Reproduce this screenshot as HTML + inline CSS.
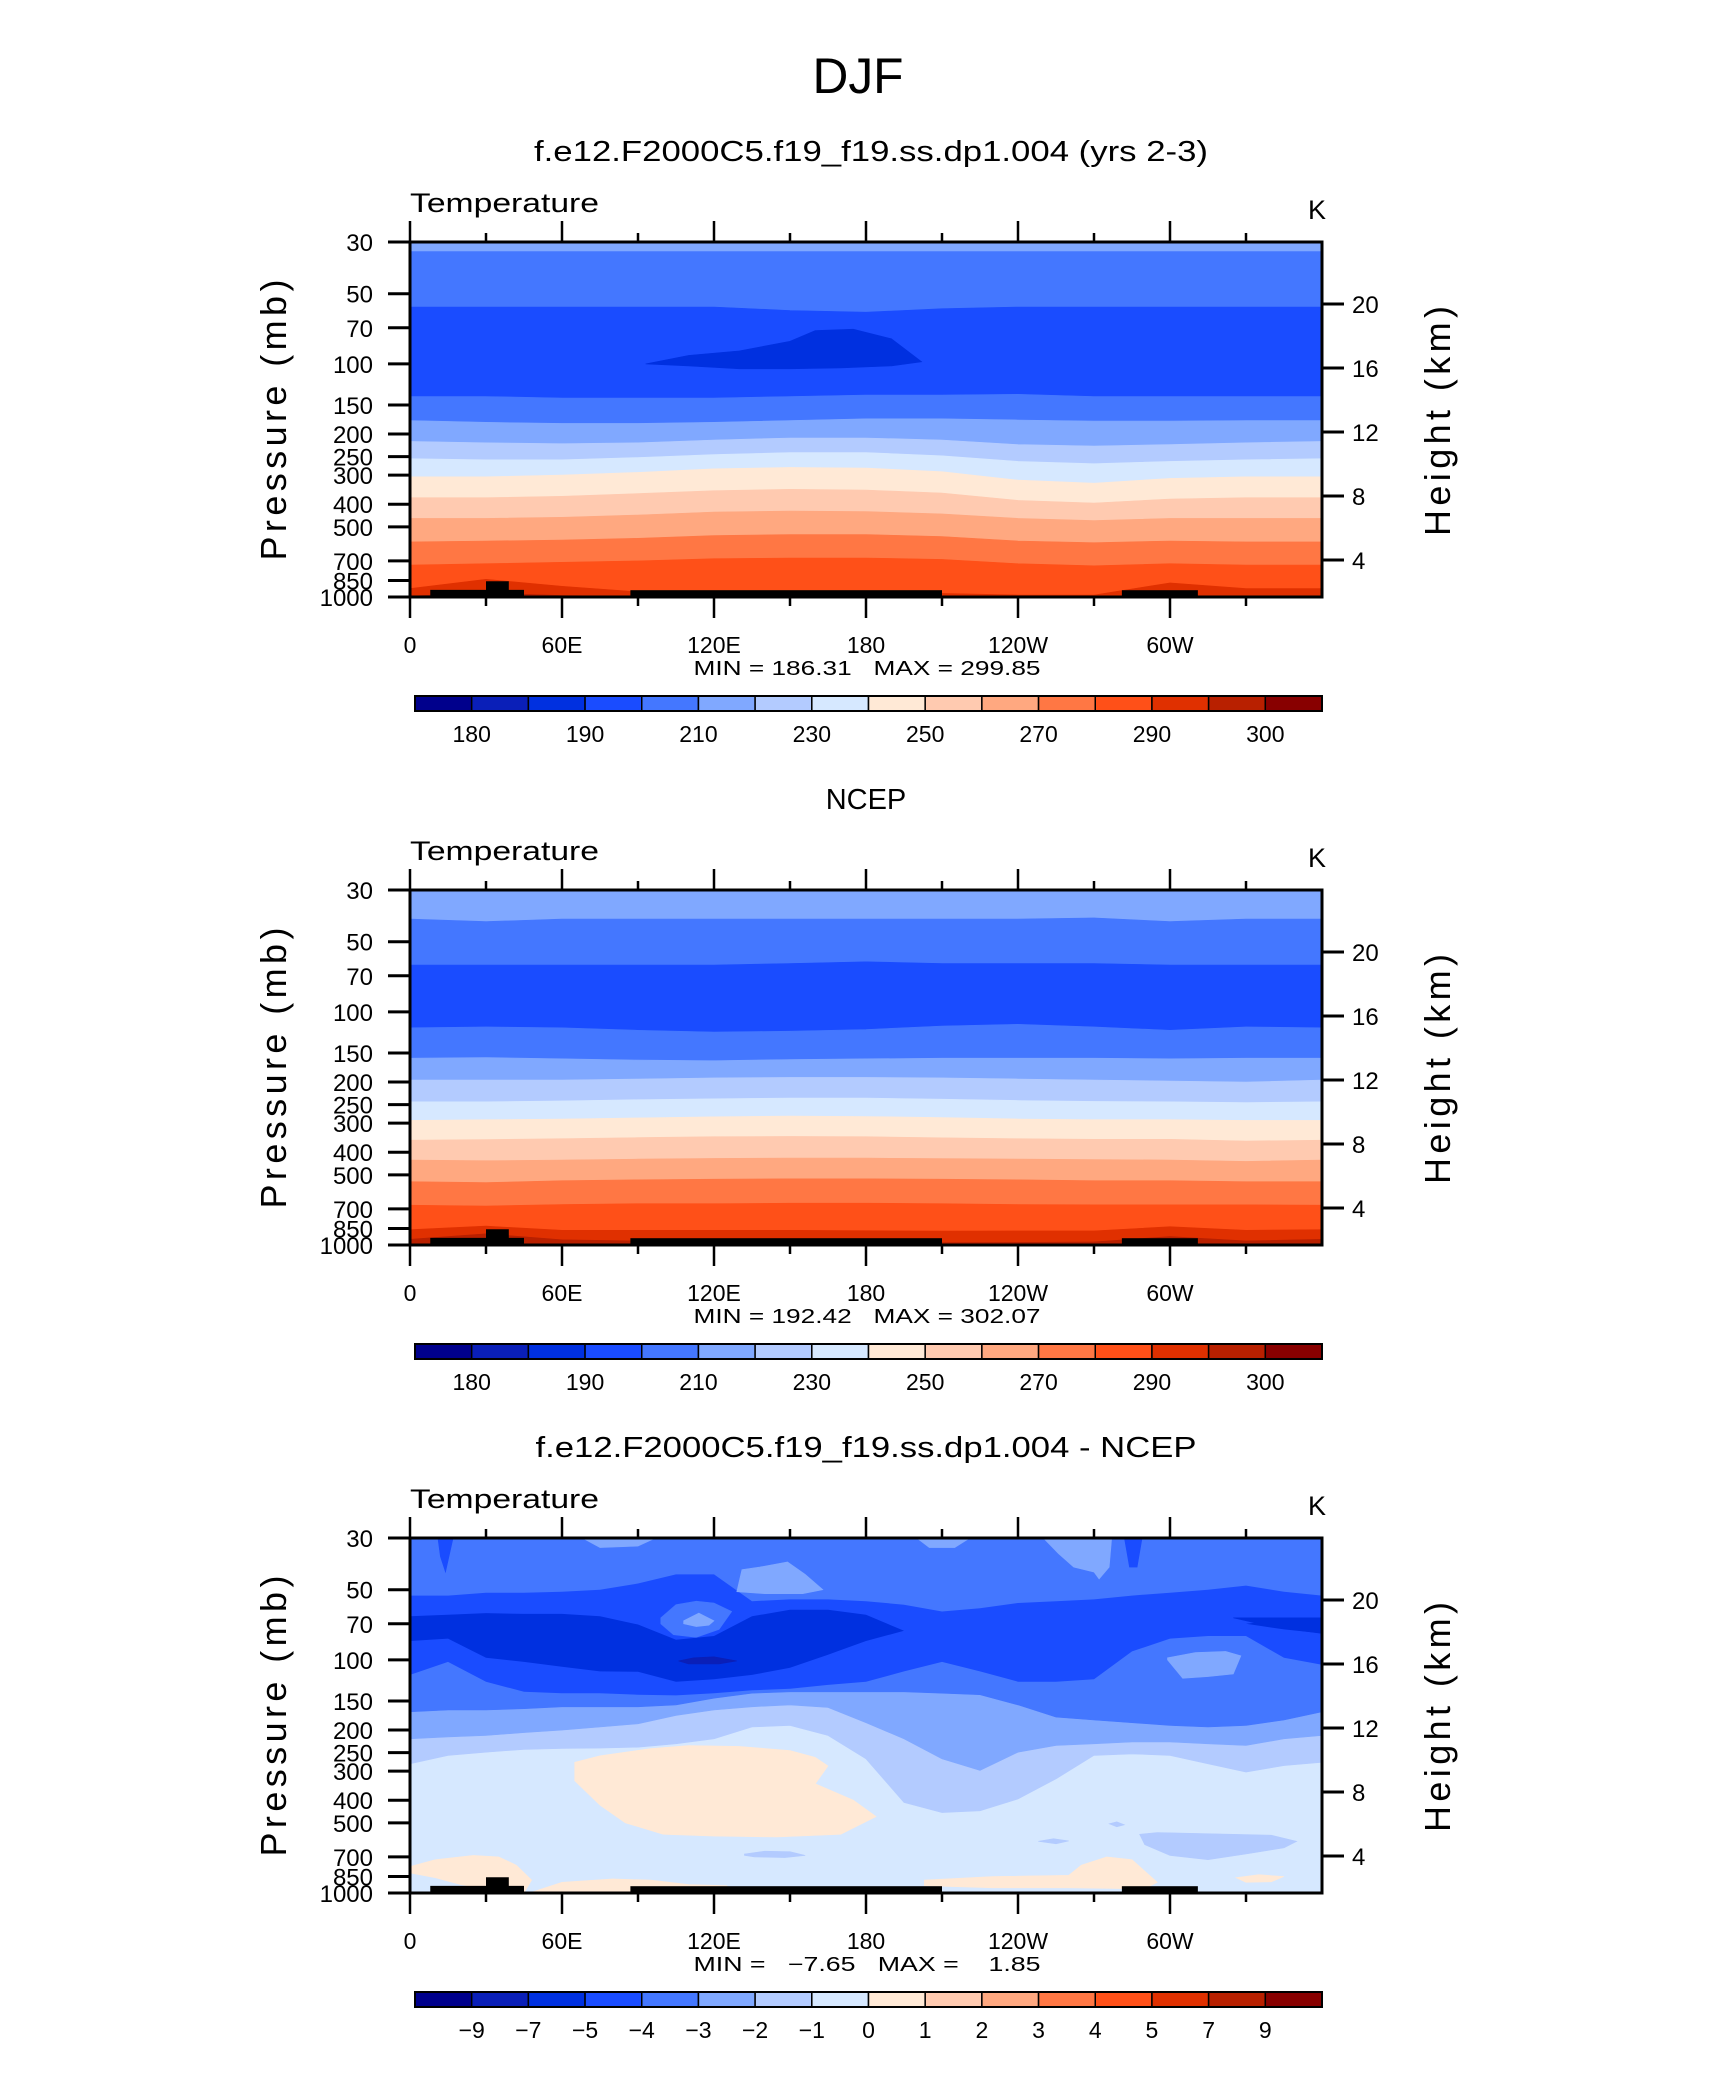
<!DOCTYPE html>
<html>
<head>
<meta charset="utf-8">
<style>
  html,body{margin:0;padding:0;background:#fff;}
  svg{display:block;}
  text{font-family:"Liberation Sans",sans-serif;fill:#000;}
</style>
</head>
<body>
<svg id="chart" xmlns="http://www.w3.org/2000/svg" width="1710" height="2074" viewBox="0 0 1710 2074">
  <rect x="0" y="0" width="1710" height="2074" fill="#fff"/>
  <text x="858" y="93" font-size="50" text-anchor="middle" textLength="91" lengthAdjust="spacingAndGlyphs">DJF</text>
  <text x="871" y="161" font-size="29" text-anchor="middle" textLength="674" lengthAdjust="spacingAndGlyphs">f.e12.F2000C5.f19_f19.ss.dp1.004 (yrs 2-3)</text>
  <text x="866" y="809" font-size="29" text-anchor="middle">NCEP</text>
  <text x="866" y="1457" font-size="29" text-anchor="middle" textLength="661" lengthAdjust="spacingAndGlyphs">f.e12.F2000C5.f19_f19.ss.dp1.004 - NCEP</text>
</svg>
<script>
// ---------- data ----------
const lons30 = [0,30,60,90,120,150,180,210,240,270,300,330,360];
const lons15 = [0,15,30,45,60,75,90,105,120,135,150,165,180,195,210,225,240,255,270,285,300,315,330,345,360];
const palette = ['#00008c','#0a1fb8','#0030e0','#1a4cff','#4477ff','#80a8ff','#b3cbff','#d6e8ff','#ffe9d6','#ffcab0','#ffa880','#ff7744','#ff5018','#e03000','#b82000','#880000'];
const tempBarLabels = ['180','190','210','230','250','270','290','300'];
const tempBarLabelIdx = [1,3,5,7,9,11,13,15];
const diffBarLabels = ['\u22129','\u22127','\u22125','\u22124','\u22123','\u22122','\u22121','0','1','2','3','4','5','7','9'];
const pressureTicks = [30,50,70,100,150,200,250,300,400,500,700,850,1000];
const heightTicks = [4,8,12,16,20];
const lonTickLabels = ['0','60E','120E','180','120W','60W'];
const lonTickVals = [0,60,120,180,240,300];

// panel 1 (model) boundaries in mb, colour index below each boundary
const m1 = [33,33,33,33,33,33,33,33,33,33,33,33,33];
const m2 = [57,57,57,57,57,59,60,58,57,57,57,57,57];
const m3 = [138,138,140,140,140,138,136,136,135,138,138,138,138];
const m4 = [175,178,180,180,178,175,172,172,174,176,176,175,175];
const m5 = [215,218,220,218,212,208,208,212,222,225,222,218,215];
const m6 = [255,258,258,252,245,240,240,248,262,268,262,258,255];
const m7 = [305,305,300,292,282,278,280,290,315,325,310,305,305];
const m8 = [375,375,370,360,350,345,348,358,385,395,380,375,375];
const m9 = [460,460,455,445,432,428,430,440,460,470,460,460,460];
const m10 = [580,575,570,560,545,540,540,550,575,585,575,580,580];
const m11 = [730,720,710,700,685,680,680,690,720,735,720,730,730];
const m12 = [920,840,900,950,960,960,960,965,980,980,870,920,920];
const m13 = [990,960,985,995,1000,1000,1000,1000,1000,1000,990,995,990];
const modelColors = [4,3,4,5,6,7,8,9,10,11,12,13,14];
const modelBlobLon = [93,110,130,150,160,175,190,202,190,170,150,130,110,93];
const modelBlobP = [100,92,88,80,72,71,78,98,102,104,105,105,102,100];

// panel 2 (NCEP)
const n1 = [40,41,40,40,40,40,40,40,40,39.5,41,40,40];
const n2 = [63,63,63,63,63,62,61,62,62,62,63,63,63];
const n3 = [117,116,117,120,122,121,119,115,113,116,120,116,117];
const n4 = [158,157,159,161,162,160,159,158,158,158,159,158,158];
const n5 = [196,196,196,194,192,191,191,192,194,196,198,200,196];
const n6 = [243,243,241,238,236,234,234,237,240,242,243,245,243];
const n7 = [292,290,288,285,282,280,281,284,288,290,290,292,292];
const n8 = [355,353,350,346,343,342,343,347,350,352,352,358,355];
const n9 = [432,435,432,428,425,424,424,426,428,430,432,438,432];
const n10 = [535,540,530,525,522,520,520,522,525,530,530,535,535];
const n11 = [675,680,670,665,665,662,662,665,670,672,672,672,675];
const n12 = [860,830,865,865,865,865,868,872,870,870,835,865,860];
const n13 = [945,895,950,960,970,975,975,978,975,970,920,960,945];
const n14 = [1000,985,1000,1000,1000,1000,1000,1000,1000,1000,1000,1000,1000];
const ncepColors = [4,3,4,5,6,7,8,9,10,11,12,13,14,15];

// panel 3 (difference) lines on 15-degree grid
const d6Line = [279,257,249,242,240,239,237,229,218,194,191,211,266,409,452,444,395,324,257,253,257,279,303,284,275];
const d5Line = [218,214,211,205,200,194,188,173,164,159,156,160,186,218,266,298,249,233,229,225,225,229,233,218,211];
const d4Line = [167,164,164,162,159,159,159,156,146,139,137,137,137,137,139,141,156,176,181,186,191,194,191,181,167];
const d3Top = [53,53,51.5,51.5,51,50,47,43,43,56,55,55,56,58,62,60,57,56,55,53,51.5,50,48,51,53];
const d3Bot = [116,102,124,137,139,139,141,142,139,135,133,128,124,112,102,112,124,124,121,92,81,79,79,98,105];
const d2Top = [65,64,63,63.5,63.5,65,70.5,82,79,65,61,61,64,75,70,70,70,70,70,70,70,70,70,67,66];
const d2Bot = [83,81,98,102,107,112,112.5,124,121,116,108,95,83,75,70,70,70,70,70,70,70,70,70,74,77];
const blobNotchLon = [99,105,113,120,127,122,113,104,99];
const blobNotchP = [66,58,56,57,62,74,80,78,70];
const blobAlon = [129,131,138,149,156,163,155,140,129];
const blobAp = [51,41,40,38,43,50,52,52,51];
const blobBlon = [108,114,120,118,113,108];
const blobBp = [68,63,68,71,72,70];
const blobClon = [299,310,322,328,325,315,305,299];
const blobCp = [98,93,92,96,115,118,120,100];
const wedge1Lon = [68,75,85,97,90,75,68];
const wedge1P = [30,30,30,30,32.5,33,30];
const wedge2Lon = [200,210,221,215,205,200];
const wedge2P = [30,30,30,33,33,30];
const wedge3Lon = [250,262,277,276,272,270,262,256,250];
const wedge3P = [30,30,30,40,45,42,40,35,30];
const wedge4Lon = [11,17,14,12,11];
const wedge4P = [30,30,42,36,30];
const wedge5Lon = [282,289,287,284,282];
const wedge5P = [30,30,40,40,30];
const wedge6Lon = [325,360,360,340,325];
const wedge6P = [66,66,77,72,66];
const blobD1Lon = [106,112,120,129,122,110,106];
const blobD1P = [101,98,97,101,104,104,101];
const c6aLon = [132,140,150,156,148,136,132];
const c6aP = [680,662,665,690,705,700,690];
const c6bLon = [248,254,260,255,248];
const c6bP = [600,585,598,615,600];
const c6cLon = [276,279,282,279,276];
const c6cP = [505,495,510,520,505];
const c6dLon = [288,295,310,325,340,350,345,330,315,300,290,288];
const c6dP = [560,550,555,560,565,600,640,680,720,690,620,560];
const c8aLon = [65,75,95,110,130,150,160,165,160,175,184,170,145,120,100,85,75,65];
const c8aP = [275,258,240,233,235,245,262,285,340,400,470,560,575,570,560,500,420,330];
const c8bLon = [0,10,25,35,42,48,45,40,30,20,10,0];
const c8bP = [770,720,690,700,760,880,1000,1000,960,920,860,820];
const c8cLon = [47,60,80,95,110,125,127,115,90,60,47];
const c8cP = [1000,900,870,880,920,930,980,1000,1000,1000,1000];
const c8dLon = [203,230,260,265,275,285,295,290,260,230,203];
const c8dP = [880,850,840,760,700,720,900,960,950,950,930];
const c8eLon = [326,335,345,340,330,326];
const c8eP = [860,835,850,895,900,860];

// topography
const topoStart = [8,30,87,281];
const topoEnd = [45,39,210,311];
const topoP = [932,856,935,935];

// ---------- geometry ----------
const NS = 'http://www.w3.org/2000/svg';
const svg = document.getElementById('chart');
const PL = 410, PW = 912, PH = 355;
const panelTops = [242, 890, 1538];
function xOf(lon){ return PL + lon/360*PW; }
function yOf(p, top){ p = Math.max(30, Math.min(1000, p)); return top + PH*Math.log(p/30)/Math.log(1000/30); }
function mk(tag, attrs, parent){ const e = document.createElementNS(NS, tag); for (const k in attrs) e.setAttribute(k, attrs[k]); parent.appendChild(e); return e; }
function linePts(lons, ps, top){ return lons.map((l,i)=> xOf(l).toFixed(1)+','+yOf(ps[i],top).toFixed(1)); }

function belowPath(lons, ps, top){
  const pts = linePts(lons, ps, top);
  return 'M'+pts.join(' L')+' L'+xOf(360)+','+(top+PH+2)+' L'+xOf(0)+','+(top+PH+2)+' Z';
}
function abovePath(lons, ps, top){
  const pts = linePts(lons, ps, top);
  return 'M'+xOf(0)+','+(top-2)+' L'+xOf(360)+','+(top-2)+' L'+pts.reverse().join(' L')+' Z';
}
function bandPath(lons, topP, botP, top){
  const a = linePts(lons, topP, top);
  const b = linePts(lons, botP, top).reverse();
  return 'M'+a.join(' L')+' L'+b.join(' L')+' Z';
}
function polyPath(lons, ps, top){ return 'M'+linePts(lons, ps, top).join(' L')+' Z'; }

function drawPanel(k){
  const top = panelTops[k];
  const g = mk('g', {}, svg);
  
  
  const cp = mk('clipPath', {id:'clip'+k}, g);
  mk('rect', {x:PL, y:top, width:PW, height:PH}, cp);
  const field = mk('g', {'clip-path':'url(#clip'+k+')'}, g);
  
  
  return {g, field, top};
}
function fillPath(parent, d, color, name, noStroke){
  const el = mk('path', {d:d, fill:color, stroke:noStroke?'none':color, 'stroke-width':0.6}, parent);
  
  
  return el;
}

function decorate(P, isDiff){
  const {g, top} = P;
  for (let i=0;i<topoStart.length;i++){
    const y = yOf(topoP[i], top);
    const r = mk('rect', {x:xOf(topoStart[i]), y:y, width:xOf(topoEnd[i])-xOf(topoStart[i]), height:top+PH-y, fill:'#000'}, g);
    
    
  }
  const fr = mk('rect', {x:PL, y:top, width:PW, height:PH, fill:'none', stroke:'#000', 'stroke-width':3}, g);
  
  
  for (let lon=0; lon<=330; lon+=30){
    const major = lon%60===0;
    const len = major?21:9;
    const t1 = mk('line', {x1:xOf(lon), x2:xOf(lon), y1:top, y2:top-len, stroke:'#000', 'stroke-width':2.5}, g);
    
    
    const t2 = mk('line', {x1:xOf(lon), x2:xOf(lon), y1:top+PH, y2:top+PH+len, stroke:'#000', 'stroke-width':2.5}, g);
    
    
  }
  lonTickVals.forEach((lon,i)=>{
    const t = mk('text', {x:xOf(lon), y:top+PH+56, 'font-size':23, 'text-anchor':'middle'}, g);
    t.textContent = lonTickLabels[i];
    
    
  });
  pressureTicks.forEach(p=>{
    const y = yOf(p, top);
    const l = mk('line', {x1:PL-22, x2:PL, y1:y, y2:y, stroke:'#000', 'stroke-width':3}, g);
    
    
    const t = mk('text', {x:373, y:y+9, 'font-size':24, 'text-anchor':'end'}, g);
    t.textContent = String(p);
    
    
  });
  heightTicks.forEach(h=>{
    const y = top + 62 + (20-h)*16;
    const l = mk('line', {x1:PL+PW, x2:PL+PW+22, y1:y, y2:y, stroke:'#000', 'stroke-width':3}, g);
    
    
    const t = mk('text', {x:PL+PW+30, y:y+9, 'font-size':24}, g);
    t.textContent = String(h);
    
    
  });
  const tl = mk('text', {x:410, y:top-30, 'font-size':27, textLength:189, lengthAdjust:'spacingAndGlyphs'}, g);
  tl.textContent = 'Temperature';
  
  
  const kl = mk('text', {x:1308, y:top-23, 'font-size':27}, g);
  kl.textContent = 'K';
  
  
  const yl = mk('text', {x:0, y:0, 'font-size':36, 'text-anchor':'middle', textLength:281, lengthAdjust:'spacing', transform:'translate(286,'+(top+178)+') rotate(-90)'}, g);
  yl.textContent = 'Pressure (mb)';
  
  
  const hl = mk('text', {x:0, y:0, 'font-size':36, 'text-anchor':'middle', textLength:230, lengthAdjust:'spacing', transform:'translate(1450,'+(top+179)+') rotate(-90)'}, g);
  hl.textContent = 'Height (km)';
  
  
  const cbTop = top + 454, cbL = 415, cbW = 907/16;
  palette.forEach((c,i)=>{
    const r = mk('rect', {x:cbL+i*cbW, y:cbTop, width:cbW, height:15, fill:c, stroke:'#000', 'stroke-width':1.5}, g);
    
    
  });
  const cbf = mk('rect', {x:cbL, y:cbTop, width:907, height:15, fill:'none', stroke:'#000', 'stroke-width':2}, g);
  
  
  if (isDiff){
    diffBarLabels.forEach((s,i)=>{
      const t = mk('text', {x:cbL+(i+1)*cbW, y:cbTop+46, 'font-size':23, 'text-anchor':'middle'}, g);
      t.textContent = s;
      
      
    });
  } else {
    tempBarLabels.forEach((s,i)=>{
      const t = mk('text', {x:cbL+tempBarLabelIdx[i]*cbW, y:cbTop+46, 'font-size':23, 'text-anchor':'middle'}, g);
      t.textContent = s;
      
      
    });
  }
}
function minmax(P, txt){
  const t = mk('text', {x:867, y:P.top+433, 'font-size':20, 'text-anchor':'middle', textLength:347, lengthAdjust:'spacingAndGlyphs'}, P.g);
  t.textContent = txt;
  
  
}

// ---------- panel 1 ----------
const P1 = drawPanel(0);
fillPath(P1.field, 'M'+PL+','+P1.top+' h'+PW+' v'+PH+' h-'+PW+' Z', palette[5], 'band-base');
[m1,m2,m3,m4,m5,m6,m7,m8,m9,m10,m11,m12,m13].forEach((b,i)=>{
  fillPath(P1.field, belowPath(lons30, b, P1.top), palette[modelColors[i]], 'temperature-band');
});
fillPath(P1.field, polyPath(modelBlobLon, modelBlobP, P1.top), palette[2], 'cold-core-blob');
decorate(P1, false);
minmax(P1, 'MIN\u00a0=\u00a0186.31\u00a0\u00a0\u00a0MAX\u00a0=\u00a0299.85');

// ---------- panel 2 ----------
const P2 = drawPanel(1);
fillPath(P2.field, 'M'+PL+','+P2.top+' h'+PW+' v'+PH+' h-'+PW+' Z', palette[5], 'band-base');
[n1,n2,n3,n4,n5,n6,n7,n8,n9,n10,n11,n12,n13,n14].forEach((b,i)=>{
  fillPath(P2.field, belowPath(lons30, b, P2.top), palette[ncepColors[i]], 'temperature-band');
});
decorate(P2, false);
minmax(P2, 'MIN\u00a0=\u00a0192.42\u00a0\u00a0\u00a0MAX\u00a0=\u00a0302.07');

// ---------- panel 3 ----------
const P3 = drawPanel(2);
const T3 = P3.top;
fillPath(P3.field, 'M'+PL+','+T3+' h'+PW+' v'+PH+' h-'+PW+' Z', palette[7], 'diff-base');
fillPath(P3.field, abovePath(lons15, d6Line, T3), palette[6], 'diff-band-minus2');
fillPath(P3.field, abovePath(lons15, d5Line, T3), palette[5], 'diff-band-minus3');
fillPath(P3.field, abovePath(lons15, d4Line, T3), palette[4], 'diff-band-minus4');
fillPath(P3.field, bandPath(lons15, d3Top, d3Bot, T3), palette[3], 'diff-band-minus5', true);
fillPath(P3.field, polyPath(blobNotchLon, blobNotchP, T3), palette[4], 'diff-notch');
fillPath(P3.field, polyPath(blobBlon, blobBp, T3), palette[5], 'diff-blob');
fillPath(P3.field, polyPath(blobAlon, blobAp, T3), palette[5], 'diff-blob');
fillPath(P3.field, polyPath(blobClon, blobCp, T3), palette[5], 'diff-blob');
fillPath(P3.field, polyPath(wedge1Lon, wedge1P, T3), palette[5], 'diff-wedge');
fillPath(P3.field, polyPath(wedge2Lon, wedge2P, T3), palette[5], 'diff-wedge');
fillPath(P3.field, polyPath(wedge3Lon, wedge3P, T3), palette[5], 'diff-wedge');
fillPath(P3.field, polyPath(wedge4Lon, wedge4P, T3), palette[3], 'diff-wedge');
fillPath(P3.field, polyPath(wedge5Lon, wedge5P, T3), palette[3], 'diff-wedge');
fillPath(P3.field, bandPath(lons15, d2Top, d2Bot, T3), palette[2], 'diff-band-minus7', true);
fillPath(P3.field, polyPath(wedge6Lon, wedge6P, T3), palette[2], 'diff-wedge');
fillPath(P3.field, polyPath(blobD1Lon, blobD1P, T3), palette[1], 'diff-blob-minus9');
fillPath(P3.field, polyPath(c6aLon, c6aP, T3), palette[6], 'diff-blob');
fillPath(P3.field, polyPath(c6bLon, c6bP, T3), palette[6], 'diff-blob');
fillPath(P3.field, polyPath(c6cLon, c6cP, T3), palette[6], 'diff-blob');
fillPath(P3.field, polyPath(c6dLon, c6dP, T3), palette[6], 'diff-blob');
fillPath(P3.field, polyPath(c8aLon, c8aP, T3), palette[8], 'diff-warm-blob');
fillPath(P3.field, polyPath(c8bLon, c8bP, T3), palette[8], 'diff-warm-blob');
fillPath(P3.field, polyPath(c8cLon, c8cP, T3), palette[8], 'diff-warm-blob');
fillPath(P3.field, polyPath(c8dLon, c8dP, T3), palette[8], 'diff-warm-blob');
fillPath(P3.field, polyPath(c8eLon, c8eP, T3), palette[8], 'diff-warm-blob');
decorate(P3, true);
minmax(P3, 'MIN\u00a0=\u00a0\u00a0\u00a0\u22127.65\u00a0\u00a0\u00a0MAX\u00a0=\u00a0\u00a0\u00a0\u00a01.85');
</script>
</body>
</html>
